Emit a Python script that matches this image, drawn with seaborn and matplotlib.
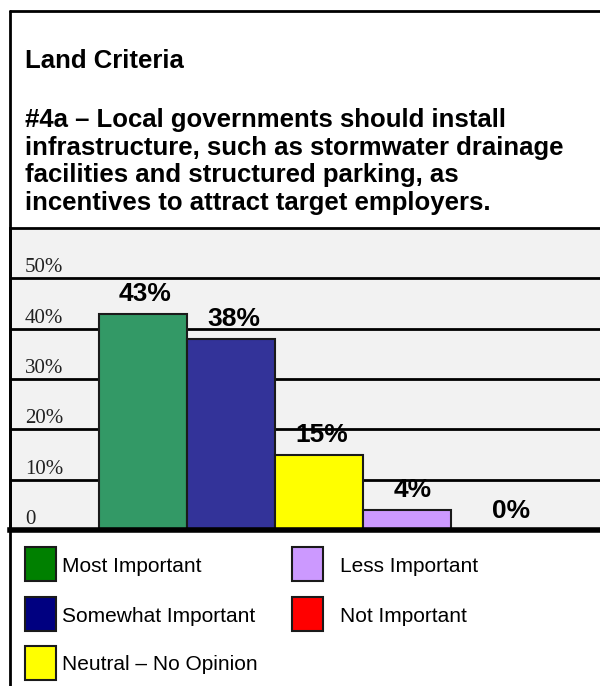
import matplotlib
matplotlib.use("Agg")
import matplotlib.pyplot as plt
from matplotlib.patches import Rectangle
from matplotlib.lines import Line2D
from matplotlib.transforms import offset_copy
import pandas as pd
import seaborn as sns

# ---- data ----
categories = ["Most Important", "Somewhat Important", "Neutral \u2013 No Opinion",
              "Less Important", "Not Important"]
values = [43, 38, 15, 4, 0]
value_labels = ["43%", "38%", "15%", "4%", "0%"]
y_ticks = [0, 10, 20, 30, 40, 50]
y_tick_labels = ["0", "10%", "20%", "30%", "40%", "50%"]

section_title = "Land Criteria"
question_lines = [
    "#4a \u2013 Local governments should install",
    "infrastructure, such as stormwater drainage",
    "facilities and structured parking, as",
    "incentives to attract target employers.",
]

# ---- styling ----
bar_colors = ["#339966", "#333399", "#ffff00", "#cc99ff", "#ff0000"]
legend_colors = ["#008000", "#000080", "#ffff00", "#cc99ff", "#ff0000"]
label_nudge_px = [2, 3, 3, 6, 16]

sns.set_theme(style="white")
plt.rcParams["font.family"] = ["Liberation Sans", "DejaVu Sans"]

W, H = 600, 686
fig = plt.figure(figsize=(W / 100, H / 100), dpi=100)
fig.patch.set_facecolor("white")


def fx(x):
    return x / W


def fy(y):
    return 1 - y / H


# chart axes: spans x 10..600 px, y 228..530 px
ax = fig.add_axes([fx(10), fy(530), (W - 10) / W, (530 - 228) / H])
ax.set_facecolor("#f2f2f2")

df = pd.DataFrame({"category": categories, "value": values})
sns.barplot(data=df, x="category", y="value", hue="category",
            palette=bar_colors, saturation=1, width=1.0, edgecolor="#1a1a1a",
            linewidth=1.5, legend=False, ax=ax, zorder=3)

ax.set_ylim(0, 60)
ax.set_xlim(-1.511, 5.194)
ax.set_yticks(y_ticks)
ax.grid(axis="y", color="black", linewidth=2, zorder=1)
ax.set_axisbelow(True)
ax.tick_params(left=False, bottom=False, labelleft=False, labelbottom=False)
ax.set_xlabel("")
ax.set_ylabel("")
for side in ["left", "top"]:
    ax.spines[side].set_visible(True)
    ax.spines[side].set_color("black")
    ax.spines[side].set_linewidth(2)
ax.spines["right"].set_visible(False)
ax.spines["bottom"].set_color("black")
ax.spines["bottom"].set_linewidth(4)
ax.spines["bottom"].set_zorder(5)

# y tick labels sitting just above each gridline
tick_tr = offset_copy(ax.get_yaxis_transform(), fig=fig, x=0, y=6 * 72 / 100, units="points")
for t, lab in zip(y_ticks, y_tick_labels):
    ax.text((25 - 10) / (W - 10), t, lab, transform=tick_tr, ha="left", va="baseline",
            fontsize=15, family=["Liberation Serif", "DejaVu Serif"], color="#222222")

# value labels above the bars
for patch, lab, nudge in zip(ax.patches, value_labels, label_nudge_px):
    cx = patch.get_x() + patch.get_width() / 2
    top = patch.get_height()
    ax.annotate(lab, xy=(cx, top), xytext=(nudge * 0.72, 12.5 * 0.72),
                textcoords="offset points", ha="center", va="baseline",
                fontsize=19, fontweight="bold", color="black", zorder=6)

# header block
fig.add_artist(Line2D([fx(10), fx(10)], [fy(11), fy(686)], color="black", lw=2))
fig.add_artist(Line2D([fx(10), fx(600)], [fy(11), fy(11)], color="black", lw=2))
fig.text(fx(25), fy(68), section_title, ha="left", va="baseline",
         fontsize=18.5, fontweight="bold", color="black")
for i, line in enumerate(question_lines):
    fig.text(fx(25), fy(127 + i * 27.7), line, ha="left", va="baseline",
             fontsize=18.5, fontweight="bold", color="black")

# legend block, two columns filled top to bottom
col_x = [25, 292]
row_y = [547, 597, 646]
sq_w, sq_h = 31, 34
for i, (name, col) in enumerate(zip(categories, legend_colors)):
    c, r = (0, i) if i < 3 else (1, i - 3)
    x0, y0 = col_x[c], row_y[r]
    fig.add_artist(Rectangle((fx(x0), fy(y0 + sq_h)), sq_w / W, sq_h / H,
                             transform=fig.transFigure, facecolor=col,
                             edgecolor="#1a1a1a", linewidth=1.5))
    fig.text(fx(x0 + sq_w + 6 if c == 0 else x0 + 48), fy(y0 + sq_h / 2), name,
             ha="left", va="center_baseline", fontsize=15, color="black")

fig.savefig("out.png", dpi=100)
